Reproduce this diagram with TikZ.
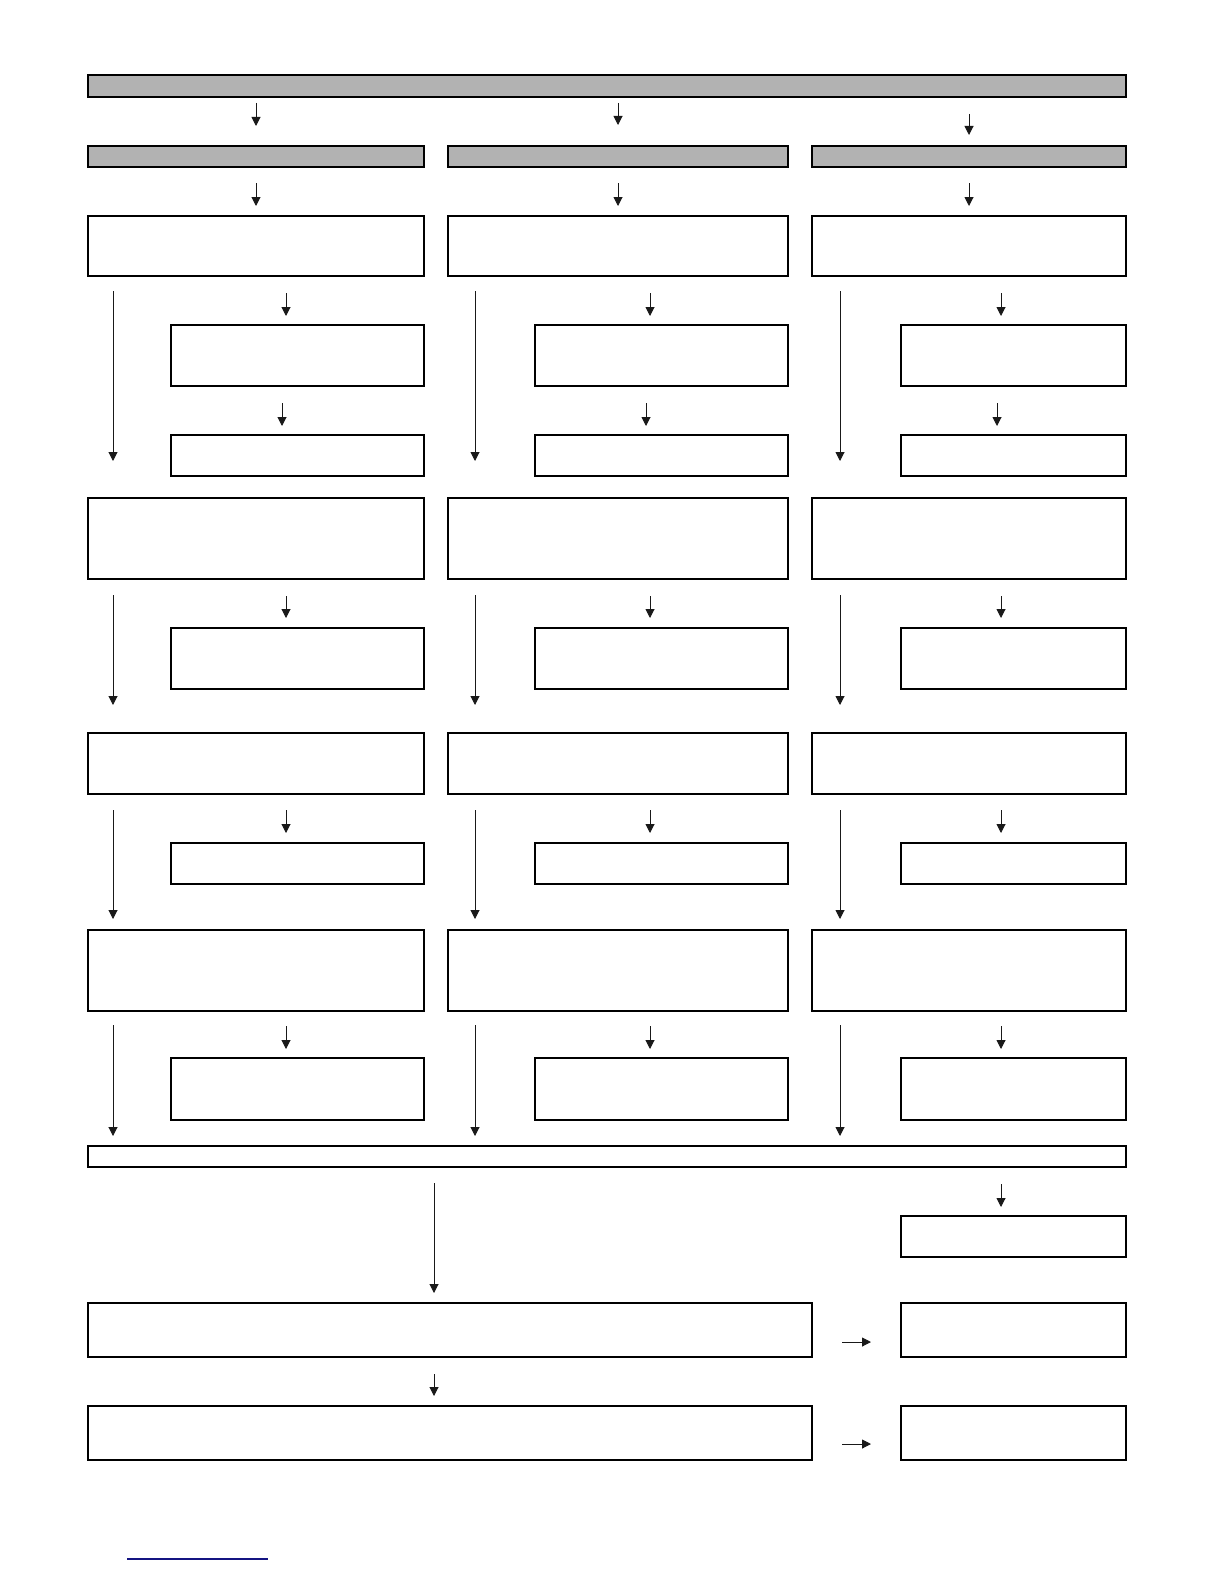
\documentclass[tikz,border=0pt]{standalone}
\usepackage{xcolor}
\usepackage{tikz}
\usetikzlibrary{arrows.meta}

\definecolor{rulenavy}{RGB}{20,20,130}

\tikzset{
	box/.style={draw, line width=0.75pt, inner sep=0pt, outer sep=0pt},
	greybox/.style={box, fill=black!30},
	arr/.style={-{Triangle[length=4.5pt,width=4.5pt]}, line width=0.5pt, draw=black!90}
}

\begin{document}
\begin{tikzpicture}[x=0.5pt, y=-0.5pt]
	\useasboundingbox (0,0) rectangle (1224,1584);

	% header bars
	\node [greybox, minimum width=519pt, minimum height=11pt] (top) at (607,86) {};
	\node [greybox, minimum width=168pt, minimum height=10.5pt] (hda) at (256,156.5) {};
	\node [greybox, minimum width=170pt, minimum height=10.5pt] (hdb) at (618,156.5) {};
	\node [greybox, minimum width=157pt, minimum height=10.5pt] (hdc) at (969,156.5) {};

	% column a
	\node [box, minimum width=168pt, minimum height=30pt] (p1a) at (256,246) {};
	\node [box, minimum width=126.5pt, minimum height=30.5pt] (s1a) at (297.5,355.5) {};
	\node [box, minimum width=126.5pt, minimum height=20.5pt] (s2a) at (297.5,455.5) {};
	\node [box, minimum width=168pt, minimum height=40.5pt] (p2a) at (256,538.5) {};
	\node [box, minimum width=126.5pt, minimum height=30.5pt] (s3a) at (297.5,658.5) {};
	\node [box, minimum width=168pt, minimum height=30.5pt] (p3a) at (256,763.5) {};
	\node [box, minimum width=126.5pt, minimum height=20.5pt] (s4a) at (297.5,863.5) {};
	\node [box, minimum width=168pt, minimum height=40.5pt] (p4a) at (256,970.5) {};
	\node [box, minimum width=126.5pt, minimum height=31pt] (s5a) at (297.5,1089) {};

	% column b
	\node [box, minimum width=170pt, minimum height=30pt] (p1b) at (618,246) {};
	\node [box, minimum width=126.5pt, minimum height=30.5pt] (s1b) at (661.5,355.5) {};
	\node [box, minimum width=126.5pt, minimum height=20.5pt] (s2b) at (661.5,455.5) {};
	\node [box, minimum width=170pt, minimum height=40.5pt] (p2b) at (618,538.5) {};
	\node [box, minimum width=126.5pt, minimum height=30.5pt] (s3b) at (661.5,658.5) {};
	\node [box, minimum width=170pt, minimum height=30.5pt] (p3b) at (618,763.5) {};
	\node [box, minimum width=126.5pt, minimum height=20.5pt] (s4b) at (661.5,863.5) {};
	\node [box, minimum width=170pt, minimum height=40.5pt] (p4b) at (618,970.5) {};
	\node [box, minimum width=126.5pt, minimum height=31pt] (s5b) at (661.5,1089) {};

	% column c
	\node [box, minimum width=157pt, minimum height=30pt] (p1c) at (969,246) {};
	\node [box, minimum width=112.5pt, minimum height=30.5pt] (s1c) at (1013.5,355.5) {};
	\node [box, minimum width=112.5pt, minimum height=20.5pt] (s2c) at (1013.5,455.5) {};
	\node [box, minimum width=157pt, minimum height=40.5pt] (p2c) at (969,538.5) {};
	\node [box, minimum width=112.5pt, minimum height=30.5pt] (s3c) at (1013.5,658.5) {};
	\node [box, minimum width=157pt, minimum height=30.5pt] (p3c) at (969,763.5) {};
	\node [box, minimum width=112.5pt, minimum height=20.5pt] (s4c) at (1013.5,863.5) {};
	\node [box, minimum width=157pt, minimum height=40.5pt] (p4c) at (969,970.5) {};
	\node [box, minimum width=112.5pt, minimum height=31pt] (s5c) at (1013.5,1089) {};

	% bottom part
	\node [box, minimum width=519pt, minimum height=10.5pt] (join) at (607,1156.5) {};
	\node [box, minimum width=112.5pt, minimum height=20.5pt] (side) at (1013.5,1236.5) {};
	\node [box, minimum width=362pt, minimum height=27pt] (lowa) at (450,1330) {};
	\node [box, minimum width=112.5pt, minimum height=27pt] (outa) at (1013.5,1330) {};
	\node [box, minimum width=362pt, minimum height=27pt] (lowb) at (450,1433) {};
	\node [box, minimum width=112.5pt, minimum height=27pt] (outb) at (1013.5,1433) {};

	% arrows from the top
	\draw [arr, shorten <=3pt, shorten >=10pt] (top.south -| hda.north) -- (hda.north);
	\draw [arr, shorten <=3pt, shorten >=10.5pt] (top.south -| hdb.north) -- (hdb.north);
	\draw [arr, shorten <=8.5pt, shorten >=5.5pt] (top.south -| hdc.north) -- (hdc.north);

	\draw [arr, shorten <=8pt, shorten >=5pt] (hda) -- (p1a);
	\draw [arr, shorten <=8pt, shorten >=5pt] (hdb) -- (p1b);
	\draw [arr, shorten <=8pt, shorten >=5pt] (hdc) -- (p1c);

	% arrows column a
	\draw [arr, shorten <=8.5pt, shorten >=4.5pt] ([xshift=-5.75pt]s1a.north |- p1a.south) -- ([xshift=-5.75pt]s1a.north);
	\draw [arr, shorten <=8.5pt, shorten >=4.5pt] ([xshift=-7.75pt]s1a.south) -- ([xshift=-7.75pt]s2a.north);
	\draw [arr, shorten <=8.5pt, shorten >=5pt] ([xshift=-5.75pt]s3a.north |- p2a.south) -- ([xshift=-5.75pt]s3a.north);
	\draw [arr, shorten <=8pt, shorten >=5pt] ([xshift=-5.75pt]s4a.north |- p3a.south) -- ([xshift=-5.75pt]s4a.north);
	\draw [arr, shorten <=7.5pt, shorten >=4.5pt] ([xshift=-5.75pt]s5a.north |- p4a.south) -- ([xshift=-5.75pt]s5a.north);
	\draw [arr, shorten <=7.5pt, shorten >=18.5pt] ([xshift=12.5pt]p1a.south west) -- ([xshift=12.5pt]p1a.south west |- p2a.north);
	\draw [arr, shorten <=8pt, shorten >=14pt] ([xshift=12.5pt]p2a.south west) -- ([xshift=12.5pt]p2a.south west |- p3a.north);
	\draw [arr, shorten <=8pt, shorten >=5.5pt] ([xshift=12.5pt]p3a.south west) -- ([xshift=12.5pt]p3a.south west |- p4a.north);
	\draw [arr, shorten <=7pt, shorten >=5pt] ([xshift=12.5pt]p4a.south west) -- ([xshift=12.5pt]p4a.south west |- join.north);

	% arrows column b
	\draw [arr, shorten <=8.5pt, shorten >=4.5pt] ([xshift=-5.75pt]s1b.north |- p1b.south) -- ([xshift=-5.75pt]s1b.north);
	\draw [arr, shorten <=8.5pt, shorten >=4.5pt] ([xshift=-7.75pt]s1b.south) -- ([xshift=-7.75pt]s2b.north);
	\draw [arr, shorten <=8.5pt, shorten >=5pt] ([xshift=-5.75pt]s3b.north |- p2b.south) -- ([xshift=-5.75pt]s3b.north);
	\draw [arr, shorten <=8pt, shorten >=5pt] ([xshift=-5.75pt]s4b.north |- p3b.south) -- ([xshift=-5.75pt]s4b.north);
	\draw [arr, shorten <=7.5pt, shorten >=4.5pt] ([xshift=-5.75pt]s5b.north |- p4b.south) -- ([xshift=-5.75pt]s5b.north);
	\draw [arr, shorten <=7.5pt, shorten >=18.5pt] ([xshift=13.5pt]p1b.south west) -- ([xshift=13.5pt]p1b.south west |- p2b.north);
	\draw [arr, shorten <=8pt, shorten >=14pt] ([xshift=13.5pt]p2b.south west) -- ([xshift=13.5pt]p2b.south west |- p3b.north);
	\draw [arr, shorten <=8pt, shorten >=5.5pt] ([xshift=13.5pt]p3b.south west) -- ([xshift=13.5pt]p3b.south west |- p4b.north);
	\draw [arr, shorten <=7pt, shorten >=5pt] ([xshift=13.5pt]p4b.south west) -- ([xshift=13.5pt]p4b.south west |- join.north);

	% arrows column c
	\draw [arr, shorten <=8.5pt, shorten >=4.5pt] ([xshift=-6.25pt]s1c.north |- p1c.south) -- ([xshift=-6.25pt]s1c.north);
	\draw [arr, shorten <=8.5pt, shorten >=4.5pt] ([xshift=-8.25pt]s1c.south) -- ([xshift=-8.25pt]s2c.north);
	\draw [arr, shorten <=8.5pt, shorten >=5pt] ([xshift=-6.25pt]s3c.north |- p2c.south) -- ([xshift=-6.25pt]s3c.north);
	\draw [arr, shorten <=8pt, shorten >=5pt] ([xshift=-6.25pt]s4c.north |- p3c.south) -- ([xshift=-6.25pt]s4c.north);
	\draw [arr, shorten <=7.5pt, shorten >=4.5pt] ([xshift=-6.25pt]s5c.north |- p4c.south) -- ([xshift=-6.25pt]s5c.north);
	\draw [arr, shorten <=7.5pt, shorten >=18.5pt] ([xshift=14pt]p1c.south west) -- ([xshift=14pt]p1c.south west |- p2c.north);
	\draw [arr, shorten <=8pt, shorten >=14pt] ([xshift=14pt]p2c.south west) -- ([xshift=14pt]p2c.south west |- p3c.north);
	\draw [arr, shorten <=8pt, shorten >=5.5pt] ([xshift=14pt]p3c.south west) -- ([xshift=14pt]p3c.south west |- p4c.north);
	\draw [arr, shorten <=7pt, shorten >=5pt] ([xshift=14pt]p4c.south west) -- ([xshift=14pt]p4c.south west |- join.north);

	% arrows at the bottom
	\draw [arr, shorten <=8pt, shorten >=5pt] ([xshift=-8pt]lowa.north |- join.south) -- ([xshift=-8pt]lowa.north);
	\draw [arr, shorten <=8.5pt, shorten >=4.5pt] ([xshift=-6.25pt]side.north |- join.south) -- ([xshift=-6.25pt]side.north);
	\draw [arr, shorten <=8.5pt, shorten >=5pt] ([xshift=-8pt]lowa.south) -- ([xshift=-8pt]lowb.north);
	\draw [arr, shorten <=15pt, shorten >=15pt] ([yshift=-6pt]lowa.east) -- ([yshift=-6pt]lowa.east -| outa.west);
	\draw [arr, shorten <=15pt, shorten >=15pt] ([yshift=-5.5pt]lowb.east) -- ([yshift=-5.5pt]lowb.east -| outb.west);

	% rule at the foot
	\draw [rulenavy, line width=0.75pt] (127,1559) -- (268,1559);

\end{tikzpicture}
\end{document}
